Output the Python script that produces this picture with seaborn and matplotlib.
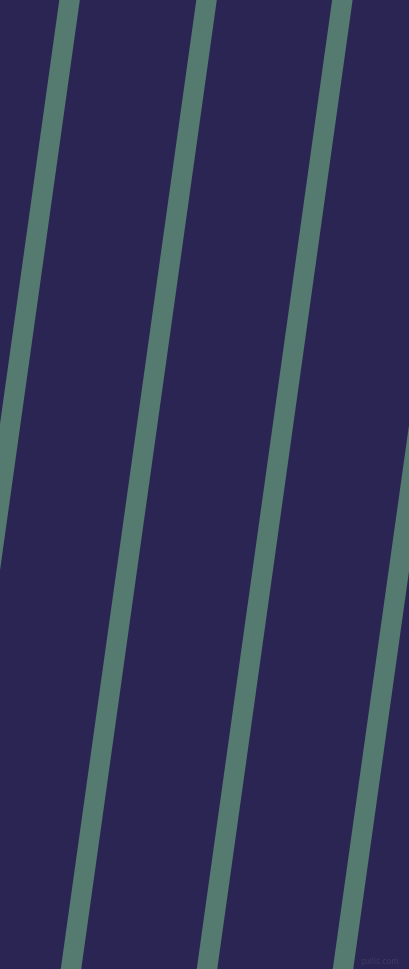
import matplotlib
matplotlib.use('Agg')
import matplotlib.pyplot as plt
import numpy as np
import seaborn as sns

# Stripe centre x-positions (pixels) at the top and bottom edges of the image
stripe_top_x = [69.7, 206.7, 342.5, 479.0]
stripe_bottom_x = [-66.0, 71.0, 207.0, 343.0]
edge_y = [0, 970]
stripe_width = 20.5  # horizontal width of one stripe

background = '#2b2553'
stripe_color = '#557a6f'

sns.set_style('white')
fig = plt.figure(figsize=(4.09, 9.70), dpi=100)
fig.patch.set_facecolor(background)
ax = fig.add_axes([0, 0, 1, 1])
ax.set_facecolor(background)

half = stripe_width / 2
for xt, xb in zip(stripe_top_x, stripe_bottom_x):
    centre = np.array([xt, xb])
    ax.fill_betweenx(edge_y, centre - half, centre + half,
                     color=stripe_color, linewidth=0)

ax.set_xlim(0, 409)
ax.set_ylim(970, 0)
ax.axis('off')

# faint watermark in the corner
ax.text(399, 962, 'pixlis.com', color='#3d3a63', fontsize=5.5,
        ha='right', va='center', family='DejaVu Sans')

fig.savefig('out.png', dpi=100, facecolor=background)
